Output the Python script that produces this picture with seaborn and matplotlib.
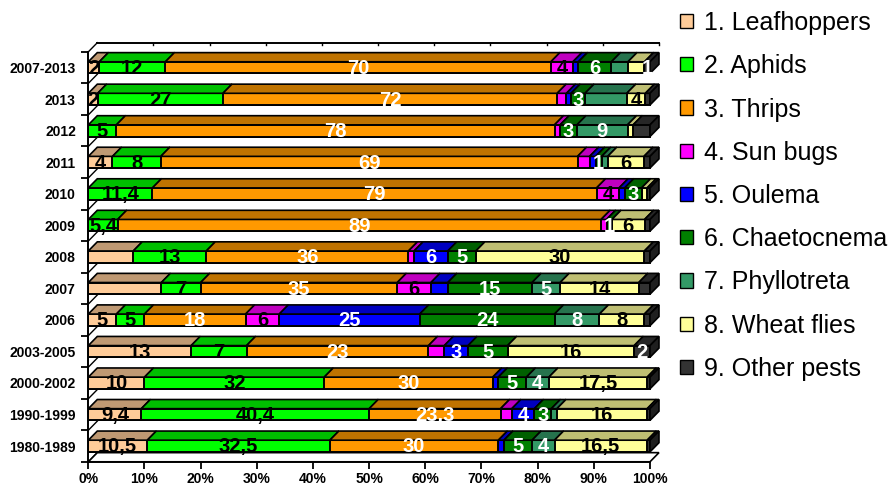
import numpy as np
import pandas as pd
import matplotlib
matplotlib.use("Agg")
import matplotlib.pyplot as plt
from matplotlib.patches import Polygon, Patch
from matplotlib.colors import to_rgb
import seaborn as sns

plt.rcParams["font.family"] = ["Liberation Sans", "DejaVu Sans"]

# ---- data -------------------------------------------------------------
periods = ["2007-2013", "2013", "2012", "2011", "2010", "2009", "2008",
           "2007", "2006", "2003-2005", "2000-2002", "1990-1999", "1980-1989"]

pests = ["1. Leafhoppers", "2. Aphids", "3. Thrips", "4. Sun bugs", "5. Oulema",
         "6. Chaetocnema", "7. Phyllotreta", "8. Wheat flies", "9. Other pests"]

leafhoppers = [2, 2, 0, 4, 0, 0, 8, 13, 5, 13, 10, 9.4, 10.5]
aphids = [12, 27, 5, 8, 11.4, 5.4, 13, 7, 5, 7, 32, 40.4, 32.5]
thrips = [70, 72, 78, 69, 79, 89, 36, 35, 18, 23, 30, 23.3, 30]
sun_bugs = [4, 2, 1, 2, 4, 1, 1, 6, 6, 2, 0, 2, 0]
oulema = [1, 1, 0, 1, 1, 0, 6, 3, 25, 3, 1, 4, 1]
chaetocnema = [6, 3, 3, 1, 3, 1, 5, 15, 24, 5, 5, 3, 5]
phyllotreta = [3, 9, 9, 1, 0, 0, 0, 5, 8, 0, 4, 1, 4]
wheat_flies = [3, 4, 1, 6, 1, 6, 30, 14, 8, 16, 17.5, 16, 16.5]
other_pests = [1, 1, 3, 1, 0.5, 1, 1, 2, 1, 2, 0.5, 0.5, 0.5]

# segments that carry a value label (pest index per period)
labelled = {
    "2007-2013": [0, 1, 2, 3, 5, 8],
    "2013": [0, 1, 2, 5, 7],
    "2012": [1, 2, 5, 6],
    "2011": [0, 1, 2, 5, 7],
    "2010": [1, 2, 3, 5],
    "2009": [1, 2, 5, 7],
    "2008": [1, 2, 4, 5, 7],
    "2007": [1, 2, 3, 5, 6, 7],
    "2006": [0, 1, 2, 3, 4, 5, 6, 7],
    "2003-2005": [0, 1, 2, 4, 5, 7, 8],
    "2000-2002": [0, 1, 2, 5, 6, 7],
    "1990-1999": [0, 1, 2, 4, 5, 7],
    "1980-1989": [0, 1, 2, 5, 6, 7],
}

front_colors = ["#FFCC99", "#00FF00", "#FF9900", "#FF00FF", "#0000FF",
                "#008000", "#339966", "#FFFF99", "#333333"]
label_colors = ["black", "black", "white", "black", "white",
                "white", "white", "black", "white"]

# ---- geometry of the pseudo-3D bars ----------------------------------
H = 0.37      # front face height (category units)
DX = 1.6      # depth offset along x (percent units)
DY = 0.29     # depth offset along y (category units)


def shade(c, f):
    r, g, b = to_rgb(c)
    return (r * f, g * f, b * f)


values = pd.DataFrame(dict(zip(pests, [leafhoppers, aphids, thrips, sun_bugs, oulema,
                                        chaetocnema, phyllotreta, wheat_flies,
                                        other_pests])), index=periods)
shares = values.div(values.sum(axis=1), axis=0) * 100
right = shares.cumsum(axis=1)
left = right - shares

fig = plt.figure(figsize=(8.93, 4.86), dpi=100)
ax = fig.add_axes([0.0989, 0.0498, 0.6447, 0.8656])

# front faces: cumulative bars drawn from the last pest to the first
for k in reversed(range(len(pests))):
    df = pd.DataFrame({"period": periods, "edge": right.iloc[:, k].values})
    sns.barplot(data=df, x="edge", y="period", order=periods, orient="h",
                color=front_colors[k], saturation=1, width=H, errorbar=None,
                edgecolor="black", linewidth=1.4, ax=ax, zorder=3)

# top faces, right side faces and value labels
for i, p in enumerate(periods):
    yt = i - H / 2
    yb = i + H / 2
    last = None
    for k in range(len(pests)):
        w = shares.loc[p].iloc[k]
        if w <= 0:
            continue
        last = k
        l = left.loc[p].iloc[k]
        r = right.loc[p].iloc[k]
        ax.add_patch(Polygon([(l, yt), (r, yt), (r + DX, yt - DY), (l + DX, yt - DY)],
                             closed=True, facecolor=shade(front_colors[k], 0.75),
                             edgecolor="black", linewidth=1.2, zorder=4))
        if k in labelled[p]:
            v = values.loc[p].iloc[k]
            txt = f"{v:g}".replace(".", ",")
            ax.text(l + w / 2, i + 0.03, txt, ha="center", va="center",
                    fontsize=14.5, fontweight="bold", color=label_colors[k], zorder=6)
    ax.add_patch(Polygon([(100, yt), (100 + DX, yt - DY), (100 + DX, yb - DY), (100, yb)],
                         closed=True, facecolor=shade(front_colors[last], 0.6),
                         edgecolor="black", linewidth=1.2, zorder=4))

# side wall grid, back edge and floor
for b in np.arange(-0.5, len(periods)):
    ax.plot([0, DX], [b, b - DY], color="black", lw=1.0, zorder=1)
ax.plot([DX, 100 + DX], [-0.5 - DY, -0.5 - DY], color="black", lw=1.4, zorder=1)
for xv in range(10, 101, 10):
    ax.plot([xv + DX, xv + DX], [-0.5 - DY, -0.5 - DY + 0.08], color="black", lw=1.0, zorder=1)
n = len(periods) - 0.5
ax.add_patch(Polygon([(0, n), (DX, n - DY), (100 + DX, n - DY), (100, n)], closed=True,
                     facecolor="white", edgecolor="black", linewidth=1.2, zorder=1))

# axes
ax.set_xlim(0, 102.5)
ax.set_ylim(len(periods) - 0.5, -0.5 - DY - 0.05)
for s in ["top", "right"]:
    ax.spines[s].set_visible(False)
ax.spines["left"].set_bounds(-0.5, len(periods) - 0.5)
ax.spines["bottom"].set_bounds(0, 100)
ax.spines["left"].set_linewidth(1.4)
ax.spines["bottom"].set_linewidth(1.4)
ax.spines["left"].set_zorder(5)

ax.set_yticks(range(len(periods)))
ax.set_yticklabels(periods, fontsize=10, fontweight="bold")
ax.set_yticks(np.arange(-0.5, len(periods)), minor=True)
ax.tick_params(axis="y", which="major", length=0, pad=9)
ax.tick_params(axis="y", which="minor", length=5, width=1.3, direction="out")

ax.set_xticks(range(0, 101, 10))
ax.set_xticklabels([f"{v}%" for v in range(0, 101, 10)], fontsize=10, fontweight="bold")
ax.tick_params(axis="x", length=5, width=1.3, pad=2)
ax.set_xlabel("")
ax.set_ylabel("")

handles = [Patch(facecolor=c, edgecolor="black", linewidth=1.0) for c in front_colors]
fig.legend(handles, pests, loc="upper left", bbox_to_anchor=(680 / 893, 1 - 11 / 486),
           frameon=False, fontsize=18, handlelength=0.5, handleheight=0.5,
           handletextpad=0.45, labelspacing=0.77, borderpad=0, borderaxespad=0)

fig.savefig("out.png", dpi=100)
